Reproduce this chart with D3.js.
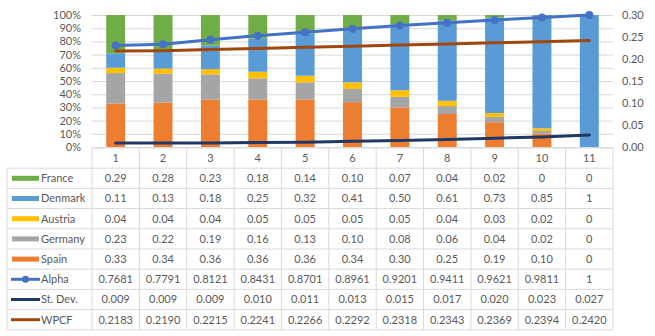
<!DOCTYPE html>
<html>
<head>
<meta charset="utf-8">
<script src="https://cdn.jsdelivr.net/npm/d3@7"></script>
<style>
  body { margin: 0; background: #fff; }
  svg { display: block; font-family: Lato, "Open Sans", sans-serif; }
</style>
</head>
<body>
<svg id="chart" width="655" height="336"></svg>
<script>
const categories = ['1', '2', '3', '4', '5', '6', '7', '8', '9', '10', '11'];
const france  = [0.29, 0.28, 0.23, 0.18, 0.14, 0.10, 0.07, 0.04, 0.02, 0.00, 0];
const denmark = [0.11, 0.13, 0.18, 0.25, 0.32, 0.41, 0.50, 0.61, 0.73, 0.85, 1];
const austria = [0.04, 0.04, 0.04, 0.05, 0.05, 0.05, 0.05, 0.04, 0.03, 0.02, 0];
const germany = [0.23, 0.22, 0.19, 0.16, 0.13, 0.10, 0.08, 0.06, 0.04, 0.02, 0];
const spain   = [0.33, 0.34, 0.36, 0.36, 0.36, 0.34, 0.30, 0.25, 0.19, 0.10, 0];
const alpha   = [0.7681, 0.7791, 0.8121, 0.8431, 0.8701, 0.8961, 0.9201, 0.9411, 0.9621, 0.9811, 1];
const stDev   = [0.009, 0.009, 0.009, 0.010, 0.011, 0.013, 0.015, 0.017, 0.020, 0.023, 0.027];
const wpcf    = [0.2183, 0.2190, 0.2215, 0.2241, 0.2266, 0.2292, 0.2318, 0.2343, 0.2369, 0.2394, 0.2420];

const barSeries = [
  { name: 'France', values: france, color: '#70ad47' },
  { name: 'Denmark', values: denmark, color: '#5b9bd5' },
  { name: 'Austria', values: austria, color: '#ffc000' },
  { name: 'Germany', values: germany, color: '#a5a5a5' },
  { name: 'Spain', values: spain, color: '#ed7d31' }
];
const lineSeries = [
  { name: 'Alpha', values: alpha, color: '#4472c4', axis: 'left', digits: 4, marker: true },
  { name: 'St. Dev.', values: stDev, color: '#1f3864', axis: 'right', digits: 3 },
  { name: 'WPCF', values: wpcf, color: '#9e480e', axis: 'right', digits: 4 }
];

const svg = d3.select('#chart');
const textColor = '#595959';
const gridColor = '#d9d9d9';

const plotLeft = 92, plotRight = 613, plotTop = 15, plotBottom = 147;
const tableLeft = 7, tableTop = 148, rowH = 20.2;

const x = d3.scaleBand().domain(categories).range([plotLeft, plotRight]);
const yL = d3.scaleLinear().domain([0, 1]).range([plotBottom, plotTop]);
const yR = d3.scaleLinear().domain([0, 0.3]).range([plotBottom, plotTop]);
const barW = x.bandwidth() * 0.4;

// gridlines
svg.append('g')
  .attr('transform', `translate(${plotLeft},0)`)
  .call(d3.axisLeft(yL).ticks(10).tickSize(-(plotRight - plotLeft)).tickFormat(''))
  .call(g => g.select('.domain').remove())
  .call(g => g.selectAll('line').attr('stroke', gridColor));

// stacked 100% bars, Spain at the bottom
const rows = categories.map((c, i) => {
  const r = { cat: c };
  barSeries.forEach(s => { r[s.name] = s.values[i]; });
  return r;
});
const stackKeys = barSeries.map(s => s.name).reverse();
const stacked = d3.stack().keys(stackKeys).offset(d3.stackOffsetExpand)(rows);
const colorOf = {};
barSeries.forEach(s => { colorOf[s.name] = s.color; });

svg.append('g').selectAll('g')
  .data(stacked)
  .join('g')
  .attr('fill', d => colorOf[d.key])
  .selectAll('rect')
  .data(d => d)
  .join('rect')
  .attr('x', d => x(d.data.cat) + (x.bandwidth() - barW) / 2)
  .attr('y', d => yL(d[1]))
  .attr('width', barW)
  .attr('height', d => Math.max(0, yL(d[0]) - yL(d[1])));

// lines
const cx = c => x(c) + x.bandwidth() / 2;
lineSeries.forEach(s => {
  const y = s.axis === 'left' ? yL : yR;
  const line = d3.line()
    .x((v, i) => cx(categories[i]))
    .y(v => y(v));
  svg.append('path')
    .datum(s.values)
    .attr('fill', 'none')
    .attr('stroke', s.color)
    .attr('stroke-width', 3)
    .attr('stroke-linecap', 'round')
    .attr('d', line);
  if (s.marker) {
    svg.append('g').selectAll('circle')
      .data(s.values)
      .join('circle')
      .attr('cx', (v, i) => cx(categories[i]))
      .attr('cy', v => y(v))
      .attr('r', 4)
      .attr('fill', s.color);
  }
});

// axes labels
svg.append('g')
  .attr('transform', `translate(${plotLeft},0)`)
  .call(d3.axisLeft(yL).ticks(10).tickSize(0).tickPadding(11).tickFormat(d3.format('.0%')))
  .call(g => g.select('.domain').remove())
  .call(g => g.selectAll('text').attr('fill', textColor).attr('font-size', 11).attr('font-family', 'Lato'));

svg.append('g')
  .attr('transform', `translate(${plotRight},0)`)
  .call(d3.axisRight(yR).tickValues(d3.range(0, 0.301, 0.05)).tickSize(0).tickPadding(9).tickFormat(d3.format('.2f')))
  .call(g => g.select('.domain').remove())
  .call(g => g.selectAll('text').attr('fill', textColor).attr('font-size', 11).attr('font-family', 'Lato'));

// data table
const table = svg.append('g');
const tableRows = barSeries.map(s => ({ name: s.name, values: s.values, color: s.color, kind: 'bar', digits: 2 }))
  .concat(lineSeries.map(s => ({ name: s.name, values: s.values, color: s.color, kind: 'line', digits: s.digits, marker: s.marker })));
const tableBottom = tableTop + rowH * (tableRows.length + 1);

// horizontal rules
table.append('line')
  .attr('x1', plotLeft).attr('x2', plotRight)
  .attr('y1', tableTop).attr('y2', tableTop);
d3.range(1, tableRows.length + 2).forEach(i => {
  table.append('line')
    .attr('x1', tableLeft).attr('x2', plotRight)
    .attr('y1', tableTop + i * rowH).attr('y2', tableTop + i * rowH);
});
// vertical rules
table.append('line')
  .attr('x1', tableLeft).attr('x2', tableLeft)
  .attr('y1', tableTop + rowH).attr('y2', tableBottom);
categories.forEach(c => {
  table.append('line')
    .attr('x1', x(c)).attr('x2', x(c))
    .attr('y1', tableTop).attr('y2', tableBottom);
});
table.append('line')
  .attr('x1', plotRight).attr('x2', plotRight)
  .attr('y1', tableTop).attr('y2', tableBottom);
table.selectAll('line').attr('stroke', gridColor).attr('stroke-width', 1);

// header (category labels)
table.append('g').selectAll('text')
  .data(categories)
  .join('text')
  .attr('x', d => cx(d))
  .attr('y', tableTop + rowH / 2)
  .attr('dy', '0.35em')
  .attr('text-anchor', 'middle')
  .attr('font-size', 11)
  .attr('fill', textColor)
  .text(d => d);

const fmt = (v, digits) => Number.isInteger(v) ? String(v) : v.toFixed(digits);

tableRows.forEach((r, ri) => {
  const yMid = tableTop + rowH * (ri + 1) + rowH / 2;
  // legend key
  if (r.kind === 'bar') {
    table.append('rect')
      .attr('x', 12).attr('y', yMid - 2.5)
      .attr('width', 27).attr('height', 5)
      .attr('fill', r.color);
  } else {
    table.append('line')
      .attr('x1', 11).attr('x2', 40)
      .attr('y1', yMid).attr('y2', yMid)
      .attr('stroke', r.color).attr('stroke-width', 3);
    if (r.marker) {
      table.append('circle')
        .attr('cx', 25.5).attr('cy', yMid).attr('r', 3.5)
        .attr('fill', r.color);
    }
  }
  table.append('text')
    .attr('x', 41).attr('y', yMid)
    .attr('dy', '0.35em')
    .attr('font-size', 11)
    .attr('fill', textColor)
    .text(r.name);
  table.append('g').selectAll('text')
    .data(r.values)
    .join('text')
    .attr('x', (v, i) => cx(categories[i]))
    .attr('y', yMid)
    .attr('dy', '0.35em')
    .attr('text-anchor', 'middle')
    .attr('font-size', 11)
    .attr('fill', textColor)
    .text(v => fmt(v, r.digits));
});
</script>
</body>
</html>
